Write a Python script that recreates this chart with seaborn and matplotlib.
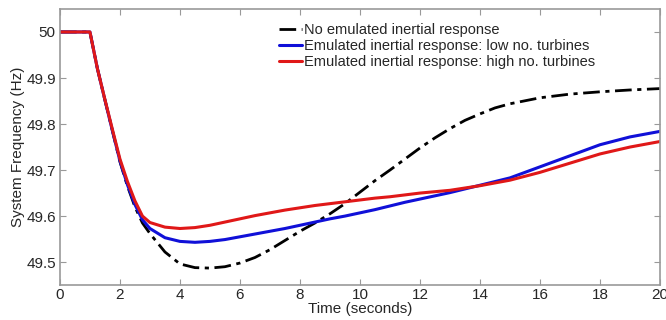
import matplotlib
matplotlib.use("Agg")
import matplotlib.pyplot as plt
import numpy as np
import pandas as pd
import seaborn as sns

# time axis (seconds) shared by all three runs
time = [0, 1, 1.25, 1.5, 1.75, 2, 2.25, 2.5, 2.75, 3, 3.5, 4, 4.5, 5, 5.5, 6, 6.5,
        7, 7.5, 8, 8.5, 9, 9.5, 10, 10.5, 11, 11.5, 12, 12.5, 13, 13.5, 14,
        14.5, 15, 16, 17, 18, 19, 20]

no_emulation = [50, 50, 49.92, 49.852, 49.785, 49.718, 49.665, 49.62, 49.585, 49.562,
                49.522, 49.496, 49.488, 49.487, 49.49, 49.498, 49.51, 49.527, 49.547,
                49.567, 49.585, 49.605, 49.627, 49.652, 49.677, 49.70, 49.724, 49.748,
                49.77, 49.79, 49.808, 49.822, 49.835, 49.844, 49.857, 49.865, 49.870,
                49.874, 49.877]

low_turbines = [50, 50, 49.92, 49.852, 49.785, 49.72, 49.668, 49.625, 49.592, 49.573,
                49.553, 49.545, 49.543, 49.545, 49.549, 49.555, 49.561, 49.567, 49.573,
                49.58, 49.587, 49.594, 49.6, 49.607, 49.614, 49.622, 49.63, 49.637,
                49.644, 49.651, 49.659, 49.667, 49.675, 49.683, 49.707, 49.731, 49.755,
                49.772, 49.784]

high_turbines = [50, 50, 49.92, 49.853, 49.788, 49.724, 49.675, 49.633, 49.6, 49.586,
                 49.576, 49.573, 49.575, 49.58, 49.587, 49.594, 49.601, 49.607, 49.613,
                 49.618, 49.623, 49.627, 49.631, 49.635, 49.639, 49.642, 49.646, 49.65,
                 49.653, 49.656, 49.661, 49.666, 49.672, 49.678, 49.695, 49.715, 49.735,
                 49.75, 49.762]

labels = ["No emulated inertial response",
          "Emulated inertial response: low no. turbines",
          "Emulated inertial response: high no. turbines"]

sns.set_style("ticks")
plt.rcParams["font.family"] = ["Liberation Sans", "DejaVu Sans"]

fig = plt.figure(figsize=(6.66, 3.2), dpi=100)
ax = fig.add_axes([0.09, 0.109, 0.901, 0.863])

sns.lineplot(x=time, y=no_emulation, color="black", lw=2,
             linestyle=(0, (6, 2, 1.5, 2)), label=labels[0], ax=ax)
sns.lineplot(x=time, y=low_turbines, color="#1010d8", lw=2.2,
             label=labels[1], ax=ax)
sns.lineplot(x=time, y=high_turbines, color="#e01818", lw=2.2,
             label=labels[2], ax=ax)

ax.set_xlim(0, 20)
ax.set_ylim(49.45, 50.05)
ax.set_xticks(np.arange(0, 21, 2))
ax.set_yticks([49.5, 49.6, 49.7, 49.8, 49.9, 50])
ax.set_yticklabels(["49.5", "49.6", "49.7", "49.8", "49.9", "50"])

ax.set_xlabel("Time (seconds)", fontsize=11, labelpad=0)
ax.set_ylabel("System Frequency (Hz)", fontsize=11, labelpad=1)

ax.tick_params(direction="in", top=True, right=True, length=4,
               color="#999999", labelsize=11)
ax.tick_params(axis="x", pad=2)
ax.tick_params(axis="y", pad=3)
for sp in ax.spines.values():
    sp.set_color("#999999")
    sp.set_linewidth(1.2)

ax.legend(loc="upper left", bbox_to_anchor=(0.355, 0.97), frameon=False,
          fontsize=10.5, handlelength=1.6, handletextpad=0.1,
          labelspacing=0.15, borderaxespad=0)

fig.savefig("out.png", dpi=100)
